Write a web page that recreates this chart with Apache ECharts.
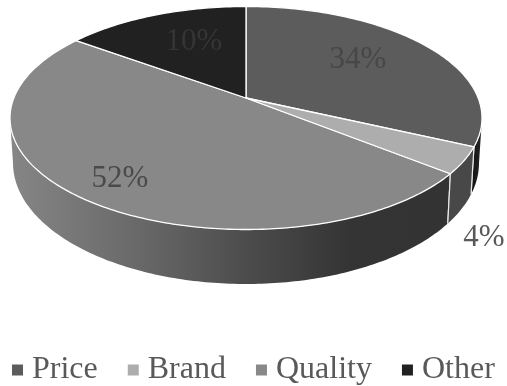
<!DOCTYPE html>
<html>
<head>
<meta charset="utf-8">
<style>html,body{margin:0;padding:0;background:#fff}#c{width:507px;height:386px}</style>
<script src="https://cdn.jsdelivr.net/npm/echarts@6/dist/echarts.min.js"></script>
</head>
<body>
<div id="c"></div>
<script>
// ---- data ----
const categories = ['Price', 'Brand', 'Quality', 'Other'];
const shares = [34, 4, 52, 10];

// ---- styling ----
const topColors = ['#5c5c5c', '#adadad', '#888888', '#212121'];
const labelColors = ['#474747', '#595959', '#4a4a4a', '#353535'];
const labelCenters = [[358, 60], [484, 238], [120, 179], [194, 42]];

// ---- 3D projection of the disc ----
const topEllipse = { cx: 246, cy: 118, rx: 236, ry: 111.5 };
const baseEllipse = { cx: 246, cy: 163, rx: 233, ry: 121 };
const apex = [246, 98];
// perspective calibration: cumulative share -> position around the rim (degrees clockwise from top)
const rimShare = [0, 34, 38, 90, 100];
const rimDeg = [0, 105, 120, 314, 360];

function shareToDeg(s) {
  for (let i = 1; i < rimShare.length; i++) {
    if (s <= rimShare[i]) {
      const f = (s - rimShare[i - 1]) / (rimShare[i] - rimShare[i - 1]);
      return rimDeg[i - 1] + f * (rimDeg[i] - rimDeg[i - 1]);
    }
  }
  return 360;
}
function rimPoint(e, deg) {
  const a = deg * Math.PI / 180;
  return [e.cx + e.rx * Math.sin(a), e.cy - e.ry * Math.cos(a)];
}
function arc(e, d0, d1) {
  const pts = [];
  const n = Math.max(2, Math.ceil(Math.abs(d1 - d0)));
  for (let i = 0; i <= n; i++) pts.push(rimPoint(e, d0 + (d1 - d0) * i / n));
  return pts;
}
function sideFill(idx) {
  const G = echarts.graphic.LinearGradient;
  if (idx === 2) return new G(10, 0, 447, 0, [
    { offset: 0, color: '#868686' },
    { offset: 0.28, color: '#6a6a6a' },
    { offset: 0.56, color: '#4a4a4a' },
    { offset: 0.78, color: '#343434' },
    { offset: 1, color: '#333333' }
  ], true);
  if (idx === 1) return '#484848';
  return new G(470, 0, 482, 0, [
    { offset: 0, color: '#0e0e0e' },
    { offset: 1, color: '#262626' }
  ], true);
}

function makeRender(idx) {
  return function (params, api) {
    const value = api.value(0);
    let before = 0;
    for (let i = 0; i < idx; i++) before += shares[i];
    const d0 = shareToDeg(before);
    const d1 = shareToDeg(before + value);
    const children = [];
    // visible outer wall: the front half of the rim only
    const s0 = Math.max(d0, 90), s1 = Math.min(d1, 270);
    if (s1 > s0) {
      const upper = arc(topEllipse, s0, s1);
      const lower = arc(baseEllipse, s1, s0);
      children.push({
        type: 'polygon',
        shape: { points: upper.concat(lower) },
        style: { fill: sideFill(idx), stroke: null }
      });
      // white seams on the wall
      [s0, s1].forEach(function (d) {
        if (d === 90 || d === 270) return;
        const a = rimPoint(topEllipse, d), b = rimPoint(baseEllipse, d);
        children.push({
          type: 'line',
          shape: { x1: a[0], y1: a[1], x2: b[0], y2: b[1] },
          style: { stroke: '#e8e8e8', lineWidth: 1.2 }
        });
      });
    }
    // top face
    children.push({
      type: 'polygon',
      shape: { points: [apex].concat(arc(topEllipse, d0, d1)) },
      style: { fill: topColors[idx], stroke: '#ffffff', lineWidth: 1.3, lineJoin: 'round' }
    });
    // value label
    children.push({
      type: 'text',
      style: {
        text: value + '%',
        x: labelCenters[idx][0],
        y: labelCenters[idx][1],
        textAlign: 'center',
        textVerticalAlign: 'middle',
        fill: labelColors[idx],
        font: '31px "Liberation Serif", serif'
      }
    });
    return { type: 'group', children: children };
  };
}

const chart = echarts.init(document.getElementById('c'), null, { renderer: 'canvas' });
chart.setOption({
  animation: false,
  backgroundColor: '#ffffff',
  legend: {
    left: 7,
    top: 349,
    padding: 5,
    itemWidth: 11,
    itemHeight: 11,
    itemGap: 30,
    icon: 'rect',
    data: categories,
    textStyle: {
      fontFamily: '"Liberation Serif", serif',
      fontSize: 32,
      color: '#595959',
      padding: [0, 0, 0, 4]
    }
  },
  series: categories.map(function (name, i) {
    return {
      type: 'custom',
      name: name,
      coordinateSystem: 'none',
      renderItem: makeRender(i),
      itemStyle: { color: topColors[i] },
      data: [[shares[i]]],
      z: i === 1 ? 3 : 2,
      silent: true
    };
  })
});
</script>
</body>
</html>
